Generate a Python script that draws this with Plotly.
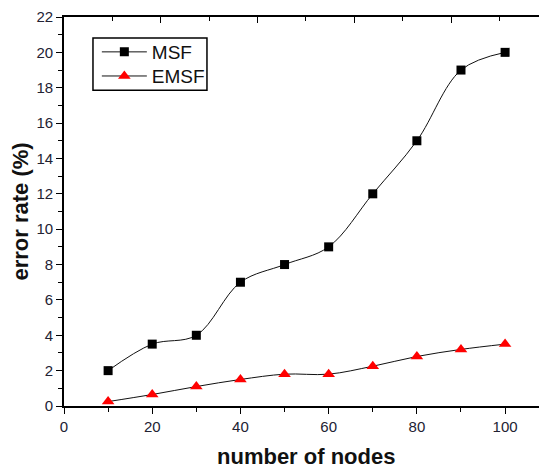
import plotly.graph_objects as go

nodes = [10, 20, 30, 40, 50, 60, 70, 80, 90, 100]
msf = [2.0, 3.5, 4.0, 7.0, 8.0, 9.0, 12.0, 15.0, 19.0, 20.0]
emsf = [0.25, 0.65, 1.1, 1.5, 1.8, 1.8, 2.25, 2.8, 3.2, 3.5]

FONT = "Liberation Sans, Arial, sans-serif"
TICKC = "#222233"

fig = go.Figure()
fig.add_trace(go.Scatter(
    x=nodes, y=msf, name="MSF", mode="lines+markers", legend="legend",
    line=dict(color="#111111", width=1, shape="spline", smoothing=1),
    marker=dict(symbol="square", size=9, color="black"),
))
fig.add_trace(go.Scatter(
    x=nodes, y=emsf, name="EMSF", mode="lines+markers", legend="legend2",
    line=dict(color="#111111", width=1, shape="spline", smoothing=1),
    marker=dict(symbol="triangle-up", size=11, color="red"),
))
# invisible trace to activate secondary (top/right) tick-only axes
fig.add_trace(go.Scatter(x=[None], y=[None], xaxis="x2", yaxis="y2",
                         showlegend=False, hoverinfo="skip"))

leg_common = dict(
    xanchor="left", yanchor="middle", borderwidth=0,
    bgcolor="rgba(0,0,0,0)", itemwidth=45,
    font=dict(family=FONT, size=19, color="#111111"),
)

fig.update_layout(
    width=539, height=460,
    margin=dict(l=56, r=0, t=9, b=62),
    paper_bgcolor="white", plot_bgcolor="white",
    font=dict(family=FONT, color=TICKC, size=15),
    showlegend=True,
    legend=dict(x=0.068, y=0.910, **leg_common),
    legend2=dict(x=0.068, y=0.848, **leg_common),
    shapes=[dict(type="rect", xref="paper", yref="paper",
                 x0=0.060, x1=0.296, y0=0.812, y1=0.946,
                 line=dict(color="black", width=1.5), fillcolor="rgba(0,0,0,0)",
                 layer="above")],
    annotations=[
        dict(text="<b>number of nodes</b>", xref="paper", yref="paper",
             x=0.5, y=-0.131, xanchor="center", yanchor="middle", showarrow=False,
             font=dict(size=22, color="#111111", family=FONT)),
        dict(text="<b>error rate (%)</b>", xref="paper", yref="paper",
             x=-0.091, y=0.5, xanchor="center", yanchor="middle", showarrow=False,
             textangle=-90, font=dict(size=22, color="#111111", family=FONT)),
    ],
    xaxis=dict(
        range=[0, 109.5], tickvals=[0, 20, 40, 60, 80, 100],
        ticks="outside", ticklen=6, tickwidth=1.2, tickcolor="black",
        minor=dict(dtick=10, ticks="outside", ticklen=4, tickcolor="black", tickwidth=1),
        showline=True, linecolor="black", linewidth=1.8,
        showgrid=False, zeroline=False, automargin=False,
        tickfont=dict(size=15, color=TICKC, family=FONT),
    ),
    yaxis=dict(
        range=[0, 22], dtick=2,
        ticks="outside", ticklen=6, tickwidth=1.2, tickcolor="black",
        minor=dict(dtick=1, ticks="outside", ticklen=4, tickcolor="black", tickwidth=1),
        showline=True, linecolor="black", linewidth=1.8,
        showgrid=False, zeroline=False, automargin=False,
        tickfont=dict(size=15, color=TICKC, family=FONT),
    ),
    xaxis2=dict(
        overlaying="x", side="top", range=[0, 99.8], dtick=20,
        ticks="inside", ticklen=6, tickwidth=1.2, tickcolor="black",
        minor=dict(dtick=10, ticks="inside", ticklen=4, tickcolor="black", tickwidth=1),
        showticklabels=False, showline=True, linecolor="black", linewidth=1.8,
        showgrid=False, zeroline=False, automargin=False,
    ),
    yaxis2=dict(
        overlaying="y", side="right", range=[0, 5], dtick=1,
        ticks="inside", ticklen=6, tickwidth=1.2, tickcolor="black",
        minor=dict(dtick=0.5, ticks="inside", ticklen=4, tickcolor="black", tickwidth=1),
        showticklabels=False, showline=False,
        showgrid=False, zeroline=False, automargin=False,
    ),
)

fig.write_html("out.html")
